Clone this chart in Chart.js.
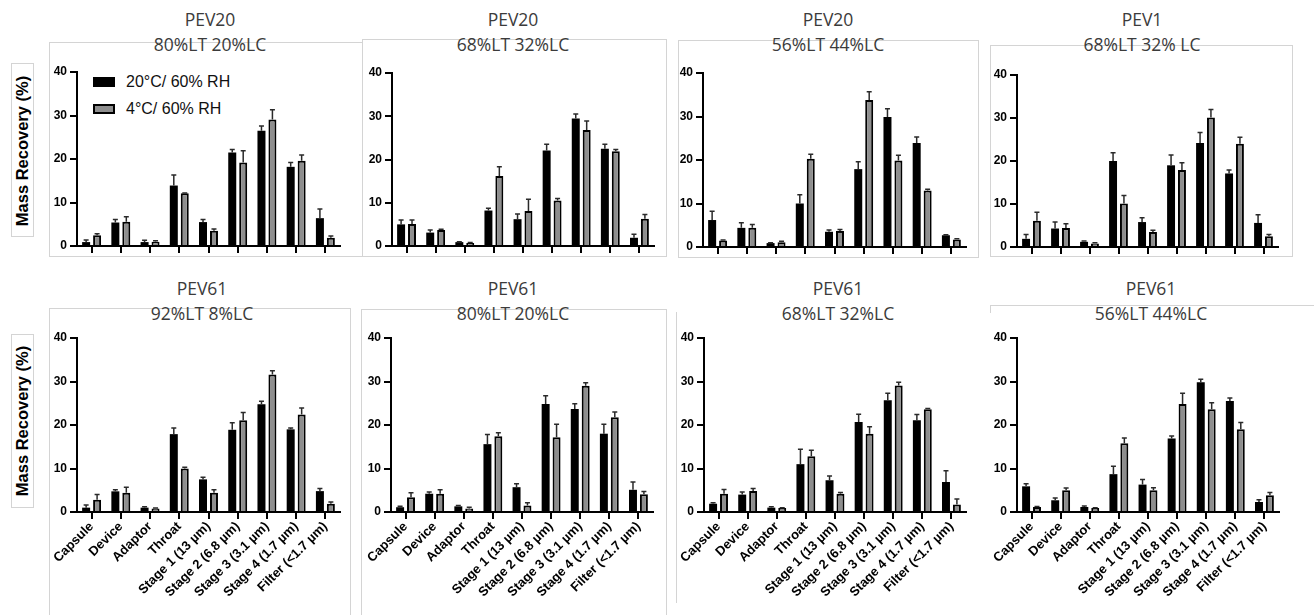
<!DOCTYPE html>
<html><head><meta charset="utf-8">
<script src="https://cdn.jsdelivr.net/npm/chart.js@4.4.1/dist/chart.umd.min.js"></script>
<style>
html,body{margin:0;padding:0;background:#fff;}
body{width:1314px;height:615px;overflow:hidden;position:relative;font-family:'Liberation Sans',Arial,sans-serif;}
.frame{position:absolute;box-sizing:border-box;border-color:#d4d4d4;border-style:solid;border-width:0;}
.title{position:absolute;font-family:'Open Sans',sans-serif;font-size:17.5px;color:#3b3b3b;white-space:nowrap;transform:translate(-50%,-50%);line-height:1;}
.ylab{position:absolute;white-space:nowrap;font-weight:bold;font-size:16.5px;color:#000;transform:translate(-50%,-50%) rotate(-90deg);line-height:1;}
.leg{position:absolute;white-space:nowrap;font-size:16px;color:#111;transform:translateY(-50%);line-height:1;}
.sw{position:absolute;box-sizing:border-box;}
canvas{position:absolute;}
</style>
</head><body>
<script>
// ---------------- data ----------------
const categories = ['Capsule','Device','Adaptor','Throat','Stage 1 (13 µm)','Stage 2 (6.8 µm)','Stage 3 (3.1 µm)','Stage 4 (1.7 µm)','Filter (<1.7 µm)'];
const seriesLabels = ['20°C/ 60% RH','4°C/ 60% RH'];
const yTicks = [0,10,20,30,40];
const yAxisLabel = 'Mass Recovery (%)';

const titles = [
  ['PEV20','80%LT 20%LC'],['PEV20','68%LT 32%LC'],['PEV20','56%LT 44%LC'],['PEV1','68%LT 32% LC'],
  ['PEV61','92%LT 8%LC'],['PEV61','80%LT 20%LC'],['PEV61','68%LT 32%LC'],['PEV61','56%LT 44%LC']
];

// PEV20 80%LT 20%LC
const p1Warm    = [0.9, 5.4, 0.9, 13.9, 5.5, 21.5, 26.5, 18.2, 6.4];
const p1WarmErr = [0.5, 0.7, 0.4, 2.4, 0.6, 0.7, 1.1, 1.0, 2.1];
const p1Cold    = [2.5, 5.6, 1.0, 12.1, 3.5, 19.2, 29.1, 19.6, 1.9];
const p1ColdErr = [0.3, 1.1, 0.2, 0.1, 0.4, 2.7, 2.2, 1.3, 0.4];
// PEV20 68%LT 32%LC
const p2Warm    = [5.0, 3.1, 0.9, 8.2, 6.2, 22.1, 29.5, 22.5, 1.9];
const p2WarmErr = [1.0, 0.6, 0.1, 0.5, 1.2, 1.4, 1.0, 1.0, 0.8];
const p2Cold    = [5.1, 3.7, 0.7, 16.2, 8.1, 10.5, 26.8, 21.9, 6.3];
const p2ColdErr = [0.9, 0.2, 0.1, 2.1, 2.7, 0.5, 2.1, 0.4, 1.0];
// PEV20 56%LT 44%LC
const p3Warm    = [6.2, 4.4, 0.9, 10.0, 3.5, 17.9, 29.9, 23.9, 2.7];
const p3WarmErr = [2.0, 1.2, 0.1, 2.0, 0.4, 1.7, 1.9, 1.4, 0.1];
const p3Cold    = [1.5, 4.4, 1.1, 20.3, 3.7, 33.8, 19.9, 13.0, 1.7];
const p3ColdErr = [0.1, 0.8, 0.2, 1.0, 0.3, 1.9, 1.2, 0.3, 0.2];
// PEV1 68%LT 32% LC
const p4Warm    = [1.9, 4.3, 1.2, 20.0, 5.8, 19.0, 24.2, 17.1, 5.6];
const p4WarmErr = [1.0, 1.5, 0.2, 1.9, 1.0, 2.4, 2.4, 0.8, 1.9];
const p4Cold    = [6.1, 4.4, 0.8, 10.1, 3.5, 17.9, 30.1, 24.0, 2.5];
const p4ColdErr = [2.0, 1.0, 0.2, 1.9, 0.4, 1.7, 1.9, 1.5, 0.4];
// PEV61 92%LT 8%LC
const p5Warm    = [1.0, 4.75, 1.0, 17.9, 7.5, 18.9, 24.75, 19.0, 4.8];
const p5WarmErr = [0.6, 0.35, 0.2, 1.4, 0.5, 1.6, 0.7, 0.3, 0.6];
const p5Cold    = [2.8, 4.4, 0.8, 10.0, 4.4, 21.1, 31.6, 22.4, 1.9];
const p5ColdErr = [1.2, 1.3, 0.1, 0.3, 0.7, 1.8, 0.9, 1.5, 0.4];
// PEV61 80%LT 20%LC
const p6Warm    = [1.1, 4.2, 1.3, 15.6, 5.7, 24.8, 23.7, 18.0, 5.1];
const p6WarmErr = [0.2, 0.4, 0.2, 2.2, 0.8, 1.9, 1.2, 2.2, 1.8];
const p6Cold    = [3.4, 4.2, 0.8, 17.4, 1.5, 17.2, 29.0, 21.8, 4.1];
const p6ColdErr = [1.0, 0.9, 0.3, 0.8, 0.6, 3.0, 0.7, 1.2, 0.6];
// PEV61 68%LT 32%LC
const p7Warm    = [1.9, 4.0, 1.0, 11.0, 7.3, 20.7, 25.7, 21.1, 6.9];
const p7WarmErr = [0.2, 0.6, 0.2, 3.4, 1.0, 1.8, 1.6, 1.3, 2.6];
const p7Cold    = [4.2, 4.8, 0.9, 12.8, 4.2, 18.0, 29.1, 23.6, 1.7];
const p7ColdErr = [1.0, 0.6, 0.1, 1.4, 0.3, 1.6, 0.7, 0.2, 1.3];
// PEV61 56%LT 44%LC
const p8Warm    = [5.9, 2.7, 1.15, 8.7, 6.3, 16.9, 29.8, 25.5, 2.3];
const p8WarmErr = [0.6, 0.5, 0.25, 1.8, 1.2, 0.6, 0.7, 0.7, 0.5];
const p8Cold    = [1.15, 5.0, 0.9, 15.8, 5.0, 24.8, 23.6, 19.0, 3.85];
const p8ColdErr = [0.1, 0.5, 0.1, 1.2, 0.6, 2.5, 1.5, 1.6, 0.65];

const panelData = [
  [p1Warm,p1WarmErr,p1Cold,p1ColdErr],[p2Warm,p2WarmErr,p2Cold,p2ColdErr],
  [p3Warm,p3WarmErr,p3Cold,p3ColdErr],[p4Warm,p4WarmErr,p4Cold,p4ColdErr],
  [p5Warm,p5WarmErr,p5Cold,p5ColdErr],[p6Warm,p6WarmErr,p6Cold,p6ColdErr],
  [p7Warm,p7WarmErr,p7Cold,p7ColdErr],[p8Warm,p8WarmErr,p8Cold,p8ColdErr]
];

// ---------------- layout (pixel geometry of each plot area) ----------------
const geom = [
  {L:77,R:340,T:72,B:246,cx:210,ty:20,lab:false},
  {L:392,R:654,T:73,B:246,cx:513,ty:20,lab:false},
  {L:703,R:966,T:73,B:247,cx:828,ty:20,lab:false},
  {L:1017,R:1278,T:75,B:247,cx:1142,ty:20,lab:false},
  {L:77,R:340,T:338,B:512,cx:202,ty:289,lab:true},
  {L:391,R:653,T:338,B:512,cx:513,ty:289,lab:true},
  {L:704,R:966,T:338,B:512,cx:838,ty:289,lab:true},
  {L:1017,R:1279,T:338,B:512,cx:1151,ty:289,lab:true}
];

const frames = [
  {l:49,t:42,w:313,h:215,b:'1px 0 1px 1px'},
  {l:362,t:39,w:305,h:218,b:'1px 1px 1px 1px'},
  {l:678,t:40,w:301,h:218,b:'1px 1px 1px 1px'},
  {l:990,t:45,w:303,h:212,b:'1px 1px 1px 1px'},
  {l:49,t:308,w:302,h:320,b:'1px 1px 0 1px'},
  {l:361,t:309,w:306,h:320,b:'1px 1px 0 1px'},
  {l:676,t:312,w:2,h:291,b:'0 0 0 1px'},
  {l:990,t:305,w:330,h:8,b:'1px 0 0 1px'},
  {l:11,t:63,w:23,h:174,b:'1px 1px 1px 1px'},
  {l:11,t:334,w:23,h:174,b:'1px 1px 1px 1px'}
];

function addDiv(cls, style, text){
  const d=document.createElement('div'); d.className=cls;
  Object.assign(d.style, style); if(text!==undefined) d.textContent=text;
  document.body.appendChild(d); return d;
}

frames.forEach(f=>addDiv('frame',{left:f.l+'px',top:f.t+'px',width:f.w+'px',height:f.h+'px',borderWidth:f.b}));

// y axis labels
addDiv('ylab',{left:'22px',top:'151px'},yAxisLabel);
addDiv('ylab',{left:'22px',top:'421px'},yAxisLabel);

// titles
geom.forEach((g,i)=>{
  addDiv('title',{left:g.cx+'px',top:g.ty+'px'},titles[i][0]);
  addDiv('title',{left:g.cx+'px',top:(g.ty+25)+'px'},titles[i][1]);
});

const COL_WARM='#000000', COL_COLD='#8e8e8e';

// legend (first panel)
addDiv('sw',{left:'93px',top:'77px',width:'22px',height:'10px',background:COL_WARM});
addDiv('sw',{left:'93px',top:'104px',width:'22px',height:'10px',background:COL_COLD,border:'2px solid #000'});
addDiv('leg',{left:'126px',top:'82px'},seriesLabels[0]);
addDiv('leg',{left:'126px',top:'109px'},seriesLabels[1]);

const errorBars = {
  id:'errorBars',
  afterDatasetsDraw(chart){
    const ctx=chart.ctx, ys=chart.scales.y;
    chart.data.datasets.forEach((ds,di)=>{
      const meta=chart.getDatasetMeta(di);
      meta.data.forEach((bar,j)=>{
        const v=ds.data[j], e=ds.err[j];
        const y0=ys.getPixelForValue(v), y1=ys.getPixelForValue(v+e);
        ctx.save();
        ctx.strokeStyle='#2a2a2a'; ctx.lineWidth=1.5;
        ctx.beginPath();
        ctx.moveTo(bar.x,y0); ctx.lineTo(bar.x,y1);
        ctx.moveTo(bar.x-2.5,y1); ctx.lineTo(bar.x+2.5,y1);
        ctx.stroke(); ctx.restore();
      });
    });
  }
};

const yFont = {family:"'Liberation Sans', Arial, sans-serif", weight:'bold', size:12};
const xFont = {family:"'Liberation Sans', Arial, sans-serif", weight:'bold', size:13};

geom.forEach((g,i)=>{
  const Yw=45, padT=20, padR=12, padB=2;
  const Xh = g.lab ? 110 : 10;
  const w=(g.R-g.L)+Yw+padR, h=(g.B-g.T)+padT+Xh+padB;
  const cv=document.createElement('canvas');
  cv.width=w; cv.height=h;
  cv.style.left=(g.L-Yw)+'px'; cv.style.top=(g.T-padT)+'px';
  cv.style.width=w+'px'; cv.style.height=h+'px';
  document.body.appendChild(cv);
  const d=panelData[i];
  new Chart(cv,{
    type:'bar',
    data:{labels:categories,datasets:[
      {label:seriesLabels[0],data:d[0],err:d[1],backgroundColor:COL_WARM,borderWidth:0,categoryPercentage:0.75,barPercentage:0.73},
      {label:seriesLabels[1],data:d[2],err:d[3],backgroundColor:COL_COLD,borderColor:'#000',borderWidth:2,borderSkipped:'start',categoryPercentage:0.75,barPercentage:0.73}
    ]},
    options:{
      responsive:false,animation:false,devicePixelRatio:1,
      layout:{padding:{top:padT,right:padR,bottom:padB,left:0}},
      plugins:{legend:{display:false},tooltip:{enabled:false},title:{display:false}},
      scales:{
        x:{
          offset:true,
          grid:{display:true,offset:false,drawOnChartArea:false,drawTicks:true,tickLength:7,tickWidth:2,tickColor:'#000',lineWidth:2,color:'#000'},
          border:{display:true,color:'#000',width:2},
          ticks:{display:g.lab,autoSkip:false,maxRotation:45,minRotation:45,padding:0,color:'#000',font:xFont},
          afterFit:s=>{s.height=Xh;}
        },
        y:{
          min:0,max:40,
          afterBuildTicks:s=>{s.ticks=yTicks.map(v=>({value:v}));},
          ticks:{padding:3,color:'#000',font:yFont},
          grid:{display:true,drawOnChartArea:false,drawTicks:true,tickLength:7,tickWidth:2,tickColor:'#000',lineWidth:2,color:'#000'},
          border:{display:true,color:'#000',width:2},
          afterFit:s=>{s.width=Yw;}
        }
      }
    },
    plugins:[errorBars]
  });
});
</script>
</body></html>
